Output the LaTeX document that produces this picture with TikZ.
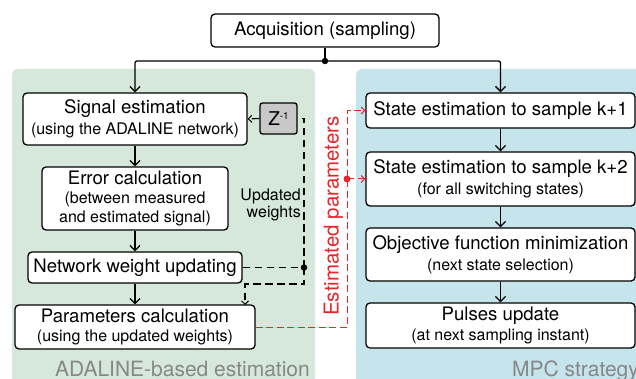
\documentclass[tikz,border=0pt]{standalone}
\usepackage{fontspec}
\setmainfont{TeX Gyre Heros}
\usetikzlibrary{arrows.meta}

\definecolor{panelgreen}{RGB}{214,232,219}
\definecolor{panelblue}{RGB}{197,228,235}
\definecolor{estred}{RGB}{232,38,42}
\definecolor{zgray}{RGB}{200,200,200}
\definecolor{labelgray}{RGB}{135,135,135}

\newcommand\mainsize{\fontsize{18.6}{21}\selectfont}
\newcommand\subsize{\fontsize{16}{20.5}\selectfont}

\begin{document}
\begin{tikzpicture}[x=1pt,y=-1pt,
  box/.style={draw=black, line width=1.3pt, rounded corners=4pt, fill=white,
    align=center, inner sep=0pt, font=\subsize},
  flow/.style={line width=1.3pt, rounded corners=2pt,
    -{Straight Barb[length=5pt,width=10pt,line width=1.3pt]}},
  wdash/.style={line width=1.1pt, dash pattern=on 7.5pt off 4.5pt},
  wtip/.style={-{Straight Barb[length=3.5pt,width=7pt,line width=1pt]}},
  reddash/.style={estred, line width=1pt, dash pattern=on 7pt off 3.5pt},
  redtip/.style={-{Straight Barb[length=3.5pt,width=7pt,line width=1pt]}},
  panel/.style={rounded corners=6pt},
  paneltitle/.style={labelgray, font=\fontsize{21}{21}\selectfont, inner sep=0pt, text depth=0pt},
  junction/.style={circle, fill=black, inner sep=0pt, minimum size=6.5pt}
]
\useasboundingbox (0,0) rectangle (636,379);
\clip (0,0) rectangle (636,379);

% background panels
\fill[panelgreen, panel] (12,69) rectangle (315,420);
\fill[panelblue, panel] (356,69) rectangle (680,420);
\node[paneltitle, anchor=base] (tadaline) at (182.5,376) {ADALINE-based estimation};
\node[paneltitle, anchor=base west] (tmpc) at (512,376) {MPC strategy};

% top block
\node[box, minimum width=228pt, minimum height=33pt, font=\mainsize] (acq) at (325,30.5) {Acquisition (sampling)};

% ADALINE column
\node[box, minimum width=224pt, minimum height=52pt] (sig) at (135,119)
  {{\mainsize Signal estimation}\\(using the ADALINE network)};
\node[box, minimum width=186pt, minimum height=63pt] (err) at (135,198.5)
  {{\mainsize Error calculation}\\[-1.5pt](between measured\\[-1.5pt]and estimated signal)};
\node[box, minimum width=214pt, minimum height=31pt, font=\mainsize] (net) at (135,267.5)
  {Network weight updating};
\node[box, minimum width=240pt, minimum height=44pt] (par) at (135,327)
  {{\mainsize Parameters calculation}\\[-1.5pt](using the updated weights)};
\node[box, fill=zgray, rounded corners=2.5pt, minimum width=37pt, minimum height=31pt] (z) at (278.5,118.5)
  {{\fontsize{19}{19}\selectfont Z}\raisebox{6pt}{\fontsize{10}{10}\selectfont -1}};
\node[align=right, anchor=east, inner sep=0pt, font=\fontsize{16}{17}\selectfont] (upd) at (301,205)
  {Updated\\weights};

% MPC column
\node[box, minimum width=269pt, minimum height=35pt, font=\mainsize] (s1) at (500.5,110.5)
  {State estimation to sample k+1};
\node[box, minimum width=269pt, minimum height=54pt] (s2) at (500.5,179)
  {{\mainsize State estimation to sample k+2}\\(for all switching states)};
\node[box, minimum width=269pt, minimum height=53pt] (obj) at (500.5,254.5)
  {{\mainsize Objective function minimization}\\(next state selection)};
\node[box, minimum width=269pt, minimum height=45pt] (pul) at (500.5,325.5)
  {{\mainsize Pulses update}\\[-1pt](at next sampling instant)};

% estimated parameters label
\node[estred, rotate=90, inner sep=0pt, font=\fontsize{20.5}{20.5}\selectfont] (est) at (333.5,216)
  {Estimated parameters};

% sampling split
\coordinate (split) at (325,61);
\draw[line width=1.3pt] (acq.south) -- (split);
\draw[flow] (split) -| (sig.north);
\draw[flow] (split) -| (s1.north);
\node[junction] (splitdot) at (split) {};

% main flow
\draw[flow] (sig.south) -- (err.north);
\draw[flow] (err.south) -- (net.north);
\draw[flow] (net.south) -- (par.north);
\draw[flow] (s1.south) -- (s2.north);
\draw[flow] (s2.south) -- (obj.north);
\draw[flow] (obj.south) -- (pul.north);

% updated weights feedback
\coordinate (wj) at (304,267.5);
\coordinate (wturn) at (304,284);
\coordinate (parin) at (245,305);
\draw[wdash] (net.east) -- (wj);
\draw[wdash] (wj) |- (z.east);
\draw[wdash, wtip] (z.west) -- (sig.east);
\draw[wdash, wtip] (wj) -- (wturn) -| (parin);
\node[junction] (wdot) at (wj) {};

% estimated parameters path
\coordinate (rcorner) at (347,110.5);
\coordinate (rj) at (347,179);
\draw[reddash, redtip] (par.east) -| (rcorner) -- (s1.west);
\draw[reddash, redtip] (rj) -- (s2.west);
\node[junction, fill=estred, minimum size=7pt] (rdot) at (rj) {};
\end{tikzpicture}
\end{document}
